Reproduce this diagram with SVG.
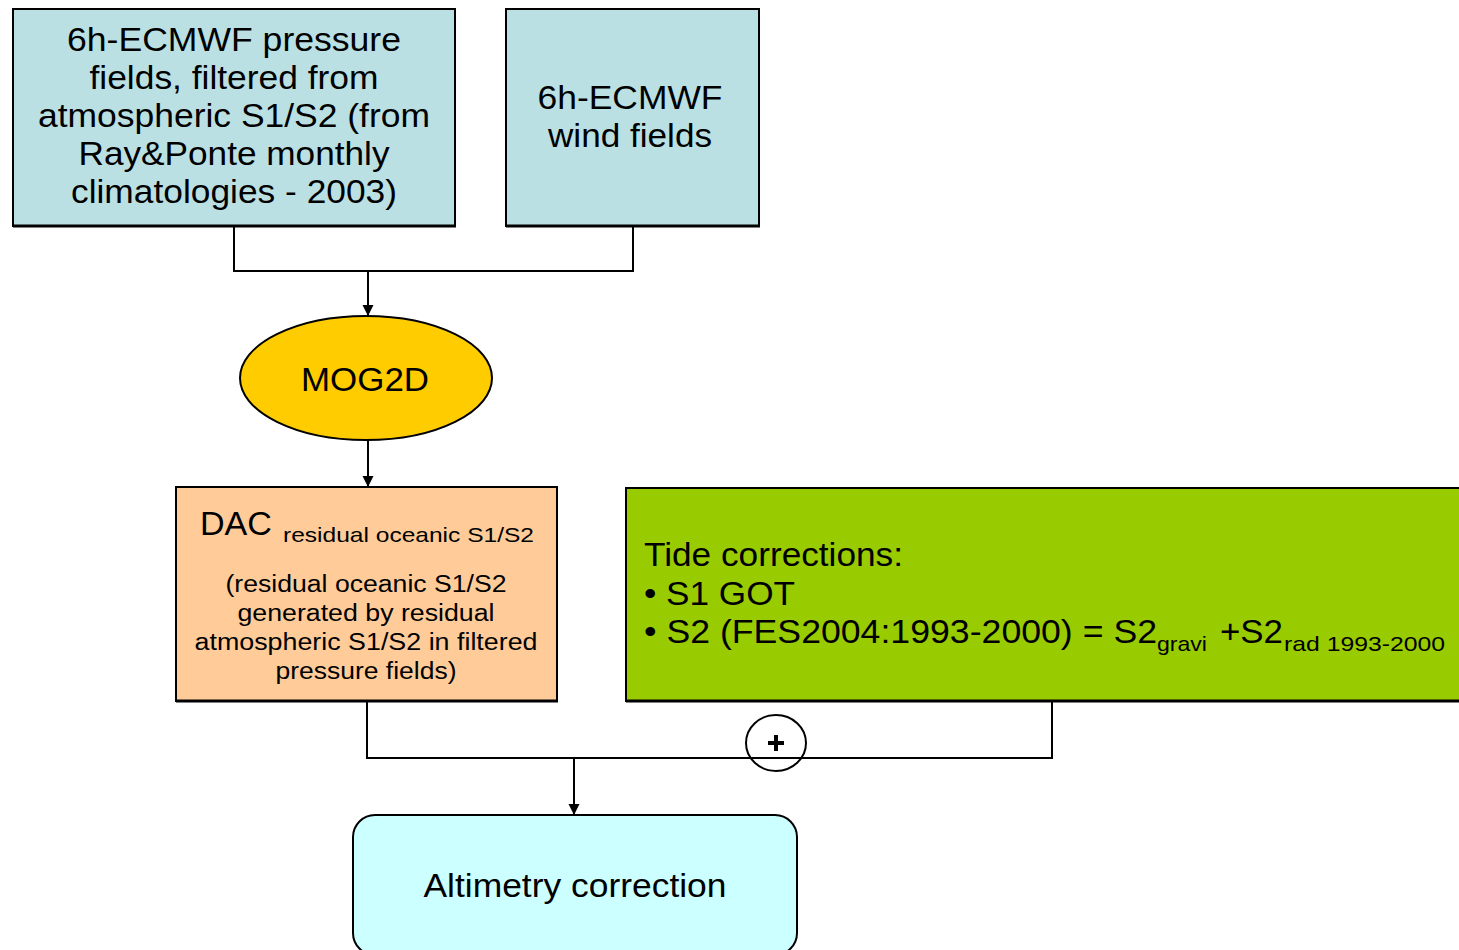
<svg xmlns="http://www.w3.org/2000/svg" width="1459" height="950" viewBox="0 0 1459 950">
<style>
text{font-family:"Liberation Sans",Arial,sans-serif;fill:#000}
.box{stroke:#000;stroke-width:2}
.sh{stroke:#000;stroke-width:3}
.big{font-size:33px}
.mid{font-size:23px}
.sub{font-size:21px}
.c{text-anchor:middle}
.conn{fill:none;stroke:#000;stroke-width:2}
</style>
<defs>
<marker id="ah" markerWidth="12" markerHeight="12" refX="11" refY="6" orient="auto" markerUnits="userSpaceOnUse" viewBox="0 0 12 12">
<path d="M0,0.5 L11,6 L0,11.5 Z" fill="#000"/>
</marker>
</defs>
<rect width="1459" height="950" fill="#fff"/>
<g id="connectors">
<path class="conn" d="M234,226 V271 H633 V226"/>
<path class="conn" d="M368,271 V316" marker-end="url(#ah)"/>
<path class="conn" d="M368,440 V487" marker-end="url(#ah)"/>
<path class="conn" d="M367,701 V758 H1052 V701"/>
<path class="conn" d="M574,758 V815" marker-end="url(#ah)"/>
</g>
<g id="pressure">
<rect class="box" x="13" y="9" width="442" height="217" fill="#bbe0e3"/>
<line class="sh" x1="13" y1="226" x2="456" y2="226"/>
<text class="big c" x="234" y="51" textLength="334" lengthAdjust="spacingAndGlyphs">6h-ECMWF pressure</text>
<text class="big c" x="234" y="89" textLength="289" lengthAdjust="spacingAndGlyphs">fields, filtered from</text>
<text class="big c" x="234" y="127" textLength="392" lengthAdjust="spacingAndGlyphs">atmospheric S1/S2 (from</text>
<text class="big c" x="234" y="165" textLength="311" lengthAdjust="spacingAndGlyphs">Ray&amp;Ponte monthly</text>
<text class="big c" x="234" y="203" textLength="326" lengthAdjust="spacingAndGlyphs">climatologies - 2003)</text>
</g>
<g id="wind">
<rect class="box" x="506" y="9" width="253" height="217" fill="#bbe0e3"/>
<line class="sh" x1="506" y1="226" x2="760" y2="226"/>
<text class="big c" x="630" y="109" textLength="185" lengthAdjust="spacingAndGlyphs">6h-ECMWF</text>
<text class="big c" x="630" y="147" textLength="164" lengthAdjust="spacingAndGlyphs">wind fields</text>
</g>
<g id="mog2d">
<ellipse cx="366" cy="378" rx="126" ry="62" fill="#ffcc00" stroke="#000" stroke-width="2"/>
<text class="big c" x="365" y="391" textLength="128" lengthAdjust="spacingAndGlyphs">MOG2D</text>
</g>
<g id="dac">
<rect class="box" x="176" y="487" width="381" height="214" fill="#ffcc99"/>
<line class="sh" x1="176" y1="701" x2="558" y2="701"/>
<text class="big" x="200" y="535" textLength="72" lengthAdjust="spacingAndGlyphs">DAC</text>
<text class="sub" x="283" y="542" textLength="251" lengthAdjust="spacingAndGlyphs">residual oceanic S1/S2</text>
<text class="mid c" x="366" y="592" textLength="281" lengthAdjust="spacingAndGlyphs">(residual oceanic S1/S2</text>
<text class="mid c" x="366" y="621" textLength="257" lengthAdjust="spacingAndGlyphs">generated by residual</text>
<text class="mid c" x="366" y="650" textLength="343" lengthAdjust="spacingAndGlyphs">atmospheric S1/S2 in filtered</text>
<text class="mid c" x="366" y="679" textLength="181" lengthAdjust="spacingAndGlyphs">pressure fields)</text>
</g>
<g id="tides">
<rect class="box" x="626" y="488" width="840" height="213" fill="#99cc00"/>
<line class="sh" x1="626" y1="701" x2="1459" y2="701"/>
<text class="big" x="644" y="566" textLength="259" lengthAdjust="spacingAndGlyphs">Tide corrections:</text>
<text class="big" x="644" y="605" textLength="151" lengthAdjust="spacingAndGlyphs">• S1 GOT</text>
<text class="big" x="644" y="643" textLength="513" lengthAdjust="spacingAndGlyphs">• S2 (FES2004:1993-2000) = S2</text>
<text class="sub" x="1157" y="651" textLength="50" lengthAdjust="spacingAndGlyphs">gravi</text>
<text class="big" x="1220" y="643" textLength="63" lengthAdjust="spacingAndGlyphs">+S2</text>
<text class="sub" x="1284" y="651" textLength="161" lengthAdjust="spacingAndGlyphs">rad 1993-2000</text>
</g>
<g id="plus">
<ellipse cx="776" cy="743" rx="30" ry="28" fill="none" stroke="#000" stroke-width="2"/>
<path d="M776,735 V751 M768,743 H784" stroke="#000" stroke-width="4"/>
</g>
<g id="altimetry">
<rect x="353" y="815" width="444" height="140" rx="22" ry="22" fill="#ccffff" stroke="#000" stroke-width="2"/>
<text class="big c" x="575" y="897" textLength="303" lengthAdjust="spacingAndGlyphs">Altimetry correction</text>
</g>
</svg>
